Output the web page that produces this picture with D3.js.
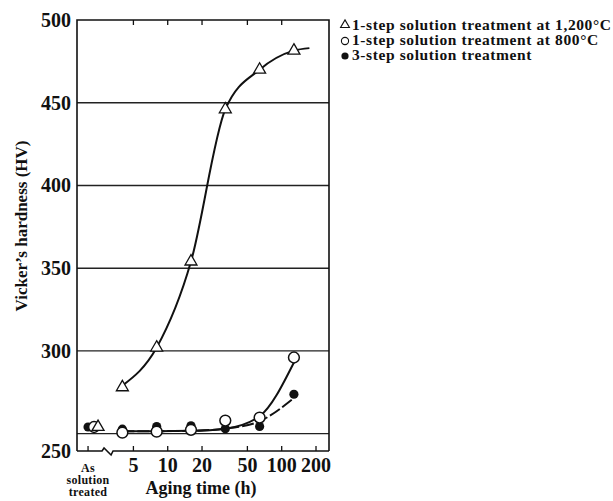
<!DOCTYPE html>
<html>
<head>
<meta charset="utf-8">
<script src="https://cdn.jsdelivr.net/npm/d3@7"></script>
<style>
  body { margin: 0; background: #fff; }
  text { font-family: "Liberation Serif", "Times New Roman", serif; font-weight: bold; fill: #111; }
</style>
</head>
<body>
<svg id="chart"></svg>
<script>
// aging times (h) and measured hardness for each treatment
var times = [4, 8, 16, 32, 64, 128];
var asTreated = { tri: 254, open: 254, filled: 254 };
var triValues = [278, 302, 354, 446, 470, 481.5];
var openValues = [250.6, 251.2, 252.3, 257.9, 259.7, 296];
var filledValues = [252.7, 254.3, 254.7, 252.9, 254.3, 273.8];

// trend curves as drawn in the figure (time, HV)
var triFit = [[4, 279], [8, 302], [16, 354], [32, 446], [64, 470], [128, 481.5], [175, 483]];
var openFit = [[4, 251.5], [8, 251.5], [16, 251.7], [32, 253], [64, 260.5], [128, 293]];
var filledFit = [[4, 251.5], [8, 251.5], [16, 251.7], [32, 253], [64, 257.5], [128, 271.5]];

var xTicks = [5, 10, 20, 50, 100, 200];
var yTicks = [500, 450, 400, 350, 300];
var gridValues = [250, 300, 350, 400, 450];
var legendLabels = [
  "1-step solution treatment at 1,200\u00B0C",
  "1-step solution treatment at 800\u00B0C",
  "3-step solution treatment"
];

(function () {
  var width = 613, height = 501;
  var mLeft = 77, mRight = 329, mTop = 20, mBottom = 451;
  var asPos = 2; // log-axis position of the "As solution treated" column

  var svg = d3.select("#chart").attr("width", width).attr("height", height);

  var x = d3.scaleLog().domain([1.6, 260]).range([mLeft, mRight]);
  var y = d3.scaleLinear().domain([239.5, 500]).range([mBottom, mTop]);

  // grid lines
  svg.selectAll(".grid")
    .data(gridValues)
    .enter().append("line")
    .attr("x1", mLeft).attr("x2", mRight)
    .attr("y1", function (d) { return y(d); })
    .attr("y2", function (d) { return y(d); })
    .style("stroke", "#222").style("stroke-width", 1.4);

  // frame: left, top, right
  svg.append("path")
    .attr("d", "M" + mLeft + "," + mBottom + "V" + mTop + "H" + mRight + "V" + mBottom)
    .style("fill", "none").style("stroke", "#111").style("stroke-width", 1.6);

  // bottom axis with a break
  var bx = x(asPos) + 14;
  svg.append("path")
    .attr("d", "M" + mLeft + "," + mBottom + "H" + bx + "L" + (bx + 2) + "," + (mBottom - 3) +
      "L" + (bx + 9) + "," + (mBottom + 4) + "L" + (bx + 11) + "," + mBottom + "H" + mRight)
    .style("fill", "none").style("stroke", "#111").style("stroke-width", 1.6);

  // ticks bottom and top, pointing inward
  svg.selectAll(".btick")
    .data([asPos].concat(xTicks))
    .enter().append("line")
    .attr("x1", function (d) { return x(d); }).attr("x2", function (d) { return x(d); })
    .attr("y1", mBottom).attr("y2", mBottom - 5)
    .style("stroke", "#111").style("stroke-width", 1.3);
  svg.selectAll(".ttick")
    .data(xTicks.slice(0, 5))
    .enter().append("line")
    .attr("x1", function (d) { return x(d); }).attr("x2", function (d) { return x(d); })
    .attr("y1", mTop).attr("y2", mTop + 5)
    .style("stroke", "#111").style("stroke-width", 1.3);

  // tick labels
  svg.selectAll(".xlab")
    .data(xTicks)
    .enter().append("text")
    .attr("x", function (d) { return x(d); })
    .attr("y", 472)
    .attr("text-anchor", "middle")
    .style("font-size", "20px")
    .text(function (d) { return d; });

  svg.selectAll(".ylab")
    .data(yTicks)
    .enter().append("text")
    .attr("x", 71)
    .attr("y", function (d) { return y(d); })
    .attr("dy", "0.35em")
    .attr("text-anchor", "end")
    .style("font-size", "20px")
    .text(function (d) { return d; });
  svg.append("text")
    .attr("x", 71).attr("y", y(y.domain()[0])).attr("dy", "0.35em")
    .attr("text-anchor", "end").style("font-size", "20px").text("250");

  svg.selectAll(".as")
    .data(["As", "solution", "treated"])
    .enter().append("text")
    .attr("x", x(asPos))
    .attr("y", function (d, i) { return 472 + i * 12; })
    .attr("text-anchor", "middle")
    .style("font-size", "12px")
    .style("letter-spacing", "0.3px")
    .text(function (d) { return d; });

  // axis titles
  svg.append("text")
    .attr("x", 201).attr("y", 494)
    .attr("text-anchor", "middle")
    .style("font-size", "18px")
    .text("Aging time (h)");
  svg.append("text")
    .attr("transform", "translate(27,226) rotate(-90)")
    .attr("text-anchor", "middle")
    .style("font-size", "17px")
    .text("Vicker\u2019s hardness (HV)");

  // trend curves
  var line = d3.line()
    .x(function (d) { return x(d[0]); })
    .y(function (d) { return y(d[1]); })
    .curve(d3.curveMonotoneX);

  svg.append("path").attr("d", line(triFit))
    .style("fill", "none").style("stroke", "#111").style("stroke-width", 2);
  svg.append("path").attr("d", line(openFit))
    .style("fill", "none").style("stroke", "#111").style("stroke-width", 2);
  svg.append("path").attr("d", line(filledFit))
    .style("fill", "none").style("stroke", "#111").style("stroke-width", 2)
    .style("stroke-dasharray", "12,3");

  // markers
  var tri = d3.symbol().type(d3.symbolTriangle).size(62);

  function points(values, asVal, dx) {
    var pts = times.map(function (t, i) { return { x: x(t), y: y(values[i]) }; });
    pts.unshift({ x: x(asPos) + dx, y: y(asVal) });
    return pts;
  }

  svg.selectAll(".fdot")
    .data(points(filledValues, asTreated.filled, 0))
    .enter().append("circle")
    .attr("cx", function (d) { return d.x; }).attr("cy", function (d) { return d.y; })
    .attr("r", 4.6)
    .style("fill", "#111");

  svg.selectAll(".odot")
    .data(points(openValues, asTreated.open, 6))
    .enter().append("circle")
    .attr("cx", function (d) { return d.x; }).attr("cy", function (d) { return d.y; })
    .attr("r", 5.4)
    .style("fill", "#fff").style("stroke", "#111").style("stroke-width", 1.5);

  svg.selectAll(".tri")
    .data(points(triValues, asTreated.tri, 10))
    .enter().append("path")
    .attr("d", tri)
    .attr("transform", function (d) { return "translate(" + d.x + "," + d.y + ")"; })
    .style("fill", "#fff").style("stroke", "#111").style("stroke-width", 1.3);

  // legend
  var legendY = [29.5, 44.5, 59.5];
  svg.selectAll(".leg")
    .data(legendLabels)
    .enter().append("text")
    .attr("x", 352)
    .attr("y", function (d, i) { return legendY[i]; })
    .style("font-size", "15.5px")
    .style("letter-spacing", "0.6px")
    .text(function (d) { return d; });

  svg.append("path")
    .attr("d", d3.symbol().type(d3.symbolTriangle).size(34)())
    .attr("transform", "translate(345," + (legendY[0] - 4.5) + ")")
    .style("fill", "#fff").style("stroke", "#111").style("stroke-width", 1.1);
  svg.append("circle")
    .attr("cx", 345).attr("cy", legendY[1] - 3.5).attr("r", 3.6)
    .style("fill", "#fff").style("stroke", "#111").style("stroke-width", 1.1);
  svg.append("circle")
    .attr("cx", 345).attr("cy", legendY[2] - 3.5).attr("r", 3.6)
    .style("fill", "#111");
})();
</script>
</body>
</html>
